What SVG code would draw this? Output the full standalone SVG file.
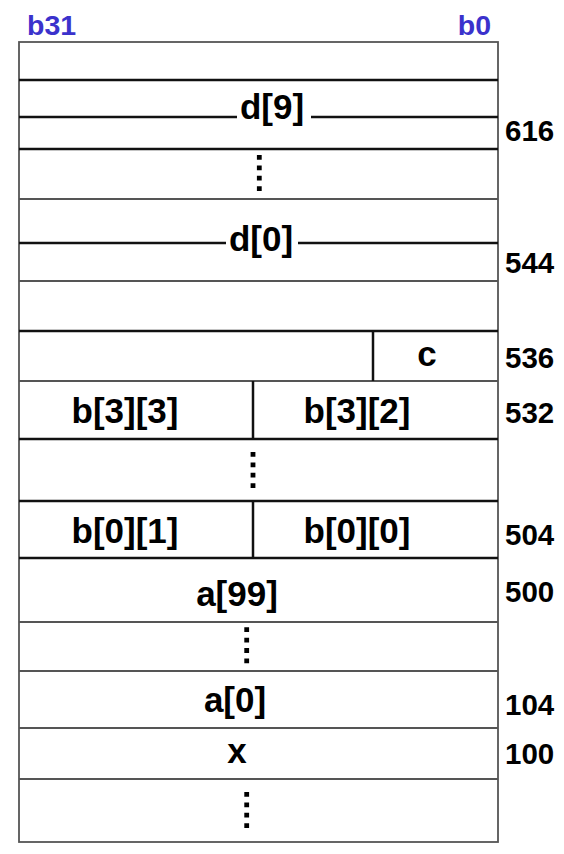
<svg xmlns="http://www.w3.org/2000/svg" width="564" height="854" viewBox="0 0 564 854">
<style>
.lbl{font-family:"Liberation Sans",Arial,sans-serif;font-weight:bold;font-size:35px;fill:#000;text-anchor:middle}
.adr{font-family:"Liberation Sans",Arial,sans-serif;font-weight:bold;font-size:29.5px;fill:#000}
.bit{font-family:"Liberation Sans",Arial,sans-serif;font-weight:bold;font-size:28.5px;fill:#3b32cc}
.thick{stroke:#111;stroke-width:2.5;fill:none}
.thin{stroke:#555;stroke-width:1.8;fill:none}
.dots{stroke:#000;stroke-width:4.8;stroke-dasharray:4.8 5.6;fill:none}
</style>
<rect x="0" y="0" width="564" height="854" fill="#fff"/>
<g id="bits">
<text class="bit" x="27" y="35">b31</text>
<text class="bit" x="491" y="35" text-anchor="end">b0</text>
</g>
<g id="frame">
<rect class="thin" x="19" y="42" width="479" height="800"/>
</g>
<g id="rows">
<line class="thick" x1="19" y1="80" x2="498" y2="80"/>
<line class="thick" x1="19" y1="149" x2="498" y2="149"/>
<line class="thin" x1="19" y1="199" x2="498" y2="199"/>
<line class="thin" x1="19" y1="281" x2="498" y2="281"/>
<line class="thick" x1="19" y1="331" x2="498" y2="331"/>
<line class="thin" x1="19" y1="381" x2="498" y2="381"/>
<line class="thick" x1="19" y1="439" x2="498" y2="439"/>
<line class="thick" x1="19" y1="501" x2="498" y2="501"/>
<line class="thick" x1="19" y1="558" x2="498" y2="558"/>
<line class="thin" x1="19" y1="622" x2="498" y2="622"/>
<line class="thin" x1="19" y1="671" x2="498" y2="671"/>
<line class="thin" x1="19" y1="728" x2="498" y2="728"/>
<line class="thin" x1="19" y1="779" x2="498" y2="779"/>
</g>
<g id="d9">
<line class="thick" x1="19" y1="117" x2="237" y2="117"/>
<line class="thick" x1="311" y1="117" x2="498" y2="117"/>
<text class="lbl" x="272" y="119">d[9]</text>
<text class="adr" x="505" y="141">616</text>
</g>
<g id="d-dots"><line class="dots" x1="259.3" y1="155" x2="259.3" y2="192"/></g>
<g id="d0">
<line class="thick" x1="19" y1="243" x2="226" y2="243"/>
<line class="thick" x1="298" y1="243" x2="498" y2="243"/>
<text class="lbl" x="261" y="251">d[0]</text>
<text class="adr" x="505" y="273">544</text>
</g>
<g id="c">
<line class="thick" x1="373" y1="331" x2="373" y2="381"/>
<text class="lbl" x="427" y="366">c</text>
<text class="adr" x="505" y="368">536</text>
</g>
<g id="b3">
<line class="thick" x1="253" y1="381" x2="253" y2="439"/>
<text class="lbl" x="125" y="423">b[3][3]</text>
<text class="lbl" x="357" y="423">b[3][2]</text>
<text class="adr" x="505" y="423">532</text>
</g>
<g id="b-dots"><line class="dots" x1="253" y1="452" x2="253" y2="489"/></g>
<g id="b0">
<line class="thick" x1="253" y1="501" x2="253" y2="558"/>
<text class="lbl" x="125" y="543">b[0][1]</text>
<text class="lbl" x="357" y="543">b[0][0]</text>
<text class="adr" x="505" y="545">504</text>
</g>
<g id="a99">
<text class="lbl" x="237" y="606">a[99]</text>
<text class="adr" x="505" y="602">500</text>
</g>
<g id="a-dots"><line class="dots" x1="246.7" y1="627.3" x2="246.7" y2="666"/></g>
<g id="a0">
<text class="lbl" x="235" y="712">a[0]</text>
<text class="adr" x="505" y="715">104</text>
</g>
<g id="x">
<text class="lbl" x="237" y="763">x</text>
<text class="adr" x="505" y="764">100</text>
</g>
<g id="bottom-dots"><line class="dots" x1="246.7" y1="792" x2="246.7" y2="830"/></g>
<g id="connectors"></g>
</svg>
